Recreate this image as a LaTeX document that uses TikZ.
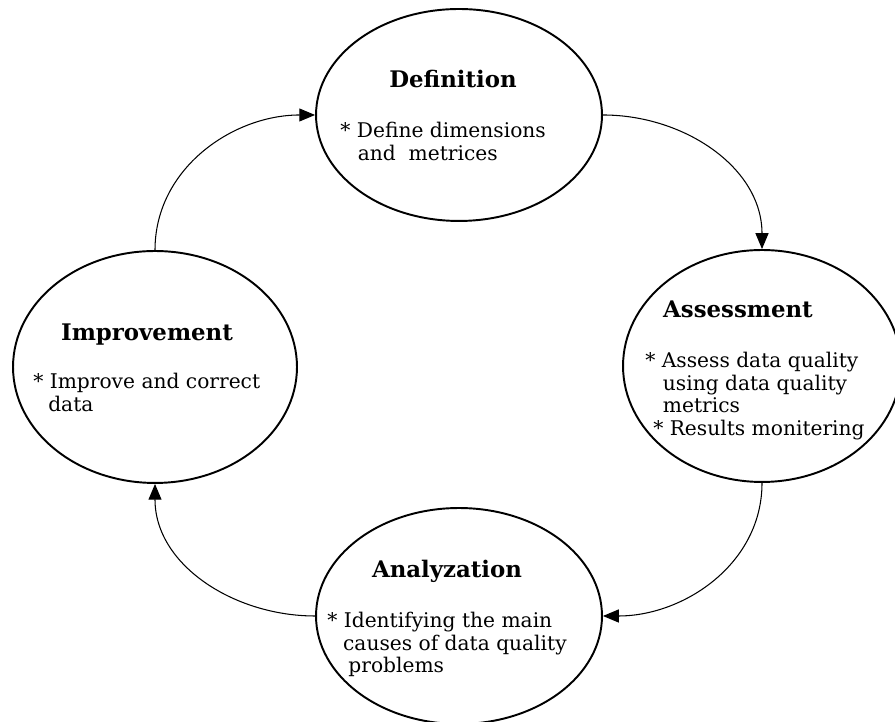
\documentclass[tikz,border=0pt]{standalone}
\usepackage{fontspec}
\setmainfont{DejaVu Serif}
\usepackage{tikz}
\usetikzlibrary{arrows.meta,shapes.geometric}

\begin{document}
\begin{tikzpicture}[x=0.02cm, y=0.02cm,
		stage/.style={draw, ellipse, line width=1.1pt, inner sep=0pt},
		ttl/.style={font=\fontsize{13}{15}\selectfont\bfseries, anchor=base, inner sep=0pt},
		txt/.style={font=\fontsize{11.5}{12.8}\selectfont, align=left, anchor=north west, inner sep=0pt},
		conn/.style={line width=0.6pt, -{Triangle[length=9pt, width=7.4pt]}}]
			\useasboundingbox (0, 0) rectangle (895, 722);
			\node[stage, minimum width=5.72cm, minimum height=4.24cm] (def) at (459, 607) {};
			\node[stage, minimum width=5.56cm, minimum height=4.64cm] (ass) at (762, 356) {};
			\node[stage, minimum width=5.68cm, minimum height=4.64cm] (imp) at (155, 355) {};
			\node[stage, minimum width=5.72cm, minimum height=4.32cm] (ana) at (459, 106) {};
			\node[ttl] (defT) at (453, 634) {Definition};
			\node[txt] (defB) at (340, 600) {* Define dimensions\\\hspace*{10pt}and\ \ metrices};
			\node[ttl] (assT) at (738, 404) {Assessment};
			\node[txt] (assB) at (645, 370) {* Assess data quality\\\hspace*{10pt}using data quality\\\hspace*{10pt}metrics\\\hspace*{4.5pt}* Results monitering};
			\node[ttl] (impT) at (147, 381) {Improvement};
			\node[txt] (impB) at (33, 349) {* Improve and correct\\\hspace*{8.5pt}data};
			\node[ttl] (anaT) at (447, 144) {Analyzation};
			\node[txt] (anaB) at (327, 110) {* Identifying the main\\\hspace*{9pt}causes of data quality\\\hspace*{12pt}problems};
			\draw[conn] (def.east) to[out=0, in=90] (ass.north);
			\draw[conn] (ass.south) to[out=-90, in=0] (ana.east);
			\draw[conn] (ana.west) to[out=180, in=-90] (imp.south);
			\draw[conn] (imp.north) to[out=90, in=180] (def.west);
		\end{tikzpicture}
\end{document}
